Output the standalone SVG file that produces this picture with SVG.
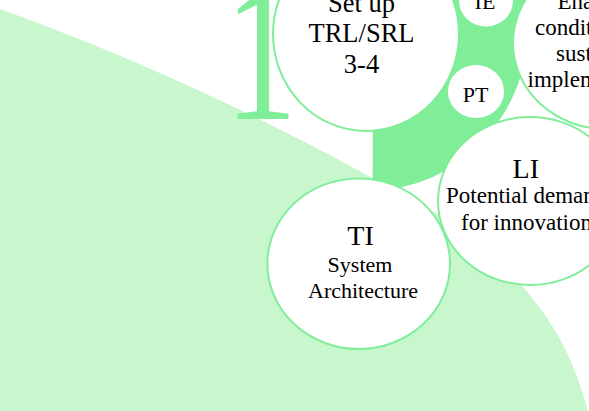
<svg xmlns="http://www.w3.org/2000/svg" width="589" height="411" viewBox="0 0 589 411">
<style>
.light{fill:#c8f7ce}
.dark{fill:#80ed99}
.node{fill:#ffffff;stroke:#80ed99;stroke-width:2}
.small{fill:#ffffff}
text{font-family:"Liberation Serif","Times New Roman",serif;fill:#000000}
.t1{font-size:28px;text-anchor:middle}
.t2{font-size:22px;text-anchor:middle}
.ts{font-size:23px}
.big{font-size:26.5px;text-anchor:middle}
.num{font-size:200px;fill:#80ed99;text-anchor:middle}
</style>
<rect width="589" height="411" fill="#ffffff"/>
<g id="background">
<path class="light" d="M 0,9 Q 186.6,76.2 373.3,178.3 C 423.3,205.6 473,229.5 523,287 C 558,327.25 574.6,362.8 588,411 L 0,411 Z"/>
<text class="num" transform="translate(261,119.3) scale(0.72,1)" x="0" y="0">1</text>
<path class="dark" d="M 372.7,20 L 372.7,190 A 157 170 0 0 0 529.7,20 A 157 170 0 0 0 372.7,-150 Z"/>
</g>
<g id="node-setup">
<ellipse class="node" cx="366" cy="34" rx="93" ry="97"/>
<text class="big" x="361.5" y="12">Set up</text>
<text class="big" x="361.5" y="42">TRL/SRL</text>
<text class="big" x="361.5" y="73">3-4</text>
</g>
<g id="node-ie">
<ellipse class="small" cx="486" cy="0.5" rx="27" ry="26"/>
<text class="t2" x="485" y="8.5">IE</text>
</g>
<g id="node-pt">
<ellipse class="small" cx="476" cy="91.5" rx="28" ry="26.5"/>
<text class="t2" x="475.5" y="101.7">PT</text>
</g>
<g id="node-enabling">
<ellipse class="node" cx="606" cy="43" rx="93" ry="86"/>
<text class="ts" x="557.5" y="8.7">Enabling</text>
<text class="ts" x="535" y="34.9">conditions for</text>
<text class="ts" x="556" y="61.1">sustainable</text>
<text class="ts" x="527.5" y="87.3">implementation</text>
</g>
<g id="node-li">
<ellipse class="node" cx="530" cy="201" rx="92" ry="84"/>
<text class="t1" x="525.8" y="178.3">LI</text>
<text class="ts" x="446" y="203.3">Potential demand</text>
<text class="ts" x="461" y="230">for innovation</text>
</g>
<g id="node-ti">
<ellipse class="node" cx="358.7" cy="263.7" rx="91.3" ry="85.3"/>
<text class="t1" x="360.5" y="245">TI</text>
<text class="t2" x="360" y="271.7">System</text>
<text class="t2" x="363" y="298.3">Architecture</text>
</g>
</svg>
